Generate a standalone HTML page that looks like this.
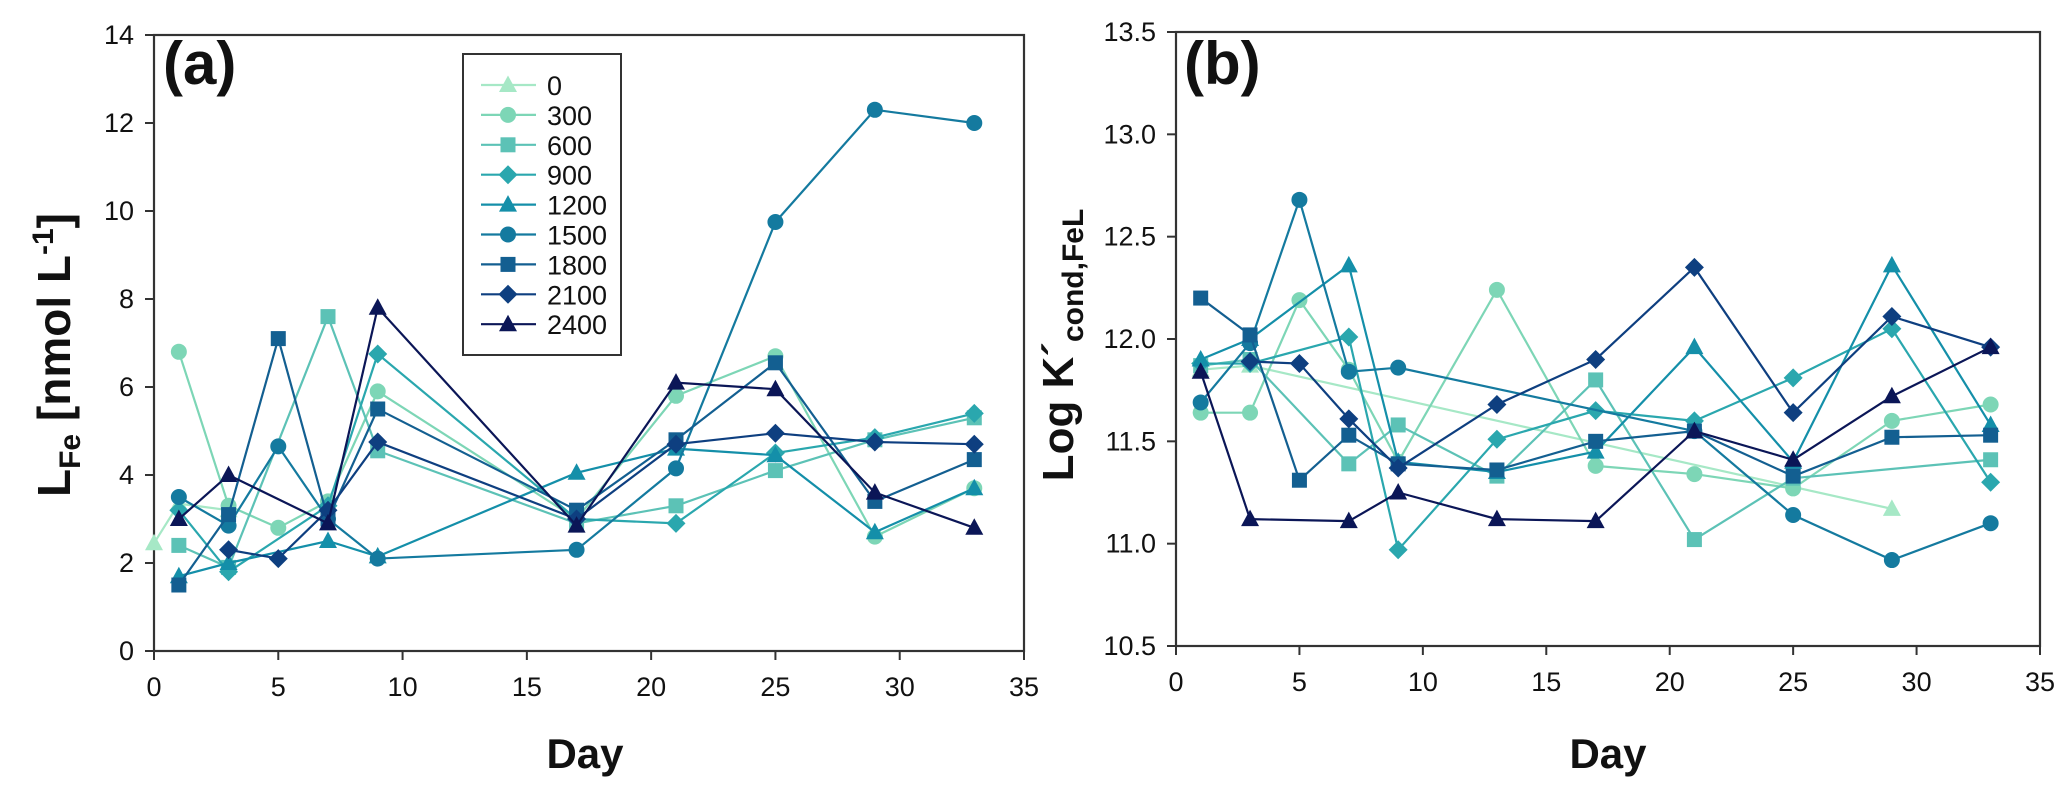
<!DOCTYPE html>
<html><head><meta charset="utf-8"><style>
html,body{margin:0;padding:0;background:#fff;}
svg{display:block;font-family:"Liberation Sans",Arial,sans-serif;}
</style></head><body>
<svg id="fig" width="2067" height="787" viewBox="0 0 2067 787" xmlns="http://www.w3.org/2000/svg"></svg>
<script>
// ---- shared data ----
const seriesNames = ["0","300","600","900","1200","1500","1800","2100","2400"];
const seriesColors = ["#a6e8c6","#7dd6b6","#5cc2b6","#2aa7ae","#148fa9","#147a9f","#135f91","#0e3f80","#0b1657"];
const seriesShapes = ["tri","circle","square","diamond","tri","circle","square","diamond","tri"];

// ---- panel (a) L_Fe ----
const aDays0 = [0,1,3];            const aVals0 = [2.45,3.35,3.2];
const aDays1 = [1,3,5,7,9,17,21,25,29,33]; const aVals1 = [6.8,3.3,2.8,3.4,5.9,3.0,5.8,6.7,2.6,3.7];
const aDays2 = [1,3,7,9,17,21,25,29,33];   const aVals2 = [2.4,1.9,7.6,4.55,2.9,3.3,4.1,4.8,5.3];
const aDays3 = [1,3,7,9,17,21,25,29,33];   const aVals3 = [3.2,1.8,3.3,6.75,3.0,2.9,4.5,4.85,5.4];
const aDays4 = [1,3,7,9,17,21,25,29,33];   const aVals4 = [1.7,2.0,2.5,2.15,4.05,4.6,4.45,2.7,3.7];
const aDays5 = [1,3,5,7,9,17,21,25,29,33]; const aVals5 = [3.5,2.85,4.65,3.0,2.1,2.3,4.15,9.75,12.3,12.0];
const aDays6 = [1,3,5,7,9,17,21,25,29,33]; const aVals6 = [1.5,3.1,7.1,3.0,5.5,3.2,4.8,6.55,3.4,4.35];
const aDays7 = [3,5,7,9,17,21,25,29,33];   const aVals7 = [2.3,2.1,3.2,4.75,3.0,4.7,4.95,4.75,4.7];
const aDays8 = [1,3,7,9,17,21,25,29,33];   const aVals8 = [3.0,4.0,2.9,7.8,2.85,6.1,5.95,3.6,2.8];
const aXTicks = [0,5,10,15,20,25,30,35];
const aYTicks = [0,2,4,6,8,10,12,14];
const aYLabels = ["0","2","4","6","8","10","12","14"];

// ---- panel (b) log K ----
const bDays0 = [1,3,29];                        const bVals0 = [11.85,11.87,11.17];
const bDays1 = [1,3,5,7,9,13,17,21,25,29,33];   const bVals1 = [11.64,11.64,12.19,11.85,11.4,12.24,11.38,11.34,11.27,11.6,11.68];
const bDays2 = [1,3,7,9,13,17,21,25,33];        const bVals2 = [11.87,11.9,11.39,11.58,11.33,11.8,11.02,11.32,11.41];
const bDays3 = [1,3,7,9,13,17,21,25,29,33];     const bVals3 = [11.88,11.88,12.01,10.97,11.51,11.65,11.6,11.81,12.05,11.3];
const bDays4 = [1,3,7,9,13,17,21,25,29,33];     const bVals4 = [11.9,12.0,12.36,11.4,11.35,11.45,11.96,11.4,12.36,11.58];
const bDays5 = [1,3,5,7,9,21,25,29,33];         const bVals5 = [11.69,11.98,12.68,11.84,11.86,11.55,11.14,10.92,11.1];
const bDays6 = [1,3,5,7,9,13,17,21,25,29,33];   const bVals6 = [12.2,12.02,11.31,11.53,11.39,11.36,11.5,11.55,11.33,11.52,11.53];
const bDays7 = [3,5,7,9,13,17,21,25,29,33];     const bVals7 = [11.89,11.88,11.61,11.37,11.68,11.9,12.35,11.64,12.11,11.96];
const bDays8 = [1,3,7,9,13,17,21,25,29,33];     const bVals8 = [11.84,11.12,11.11,11.25,11.12,11.11,11.55,11.41,11.72,11.96];
const bXTicks = [0,5,10,15,20,25,30,35];
const bYTicks = [10.5,11.0,11.5,12.0,12.5,13.0,13.5];
const bYLabels = ["10.5","11.0","11.5","12.0","12.5","13.0","13.5"];

const aDays = [aDays0,aDays1,aDays2,aDays3,aDays4,aDays5,aDays6,aDays7,aDays8];
const aVals = [aVals0,aVals1,aVals2,aVals3,aVals4,aVals5,aVals6,aVals7,aVals8];
const bDays = [bDays0,bDays1,bDays2,bDays3,bDays4,bDays5,bDays6,bDays7,bDays8];
const bVals = [bVals0,bVals1,bVals2,bVals3,bVals4,bVals5,bVals6,bVals7,bVals8];

const NS = "http://www.w3.org/2000/svg";
const svg = document.getElementById("fig");
function mk(tag, attrs, parent){
  const e = document.createElementNS(NS, tag);
  for (const k in attrs) e.setAttribute(k, attrs[k]);
  (parent||svg).appendChild(e);
  return e;
}
function marker(shape, cx, cy, color, parent, s){
  s = s || 8;
  let e;
  if (shape==="circle") e = mk("circle",{cx:cx,cy:cy,r:s,fill:color},parent);
  else if (shape==="square") e = mk("rect",{x:cx-s+0.5,y:cy-s+0.5,width:2*s-1,height:2*s-1,fill:color},parent);
  else if (shape==="diamond") e = mk("polygon",{points:`${cx},${cy-s-1.5} ${cx+s+1.5},${cy} ${cx},${cy+s+1.5} ${cx-s-1.5},${cy}`,fill:color},parent);
  else e = mk("polygon",{points:`${cx},${cy-s-1.5} ${cx+s+1},${cy+s-1} ${cx-s-1},${cy+s-1}`,fill:color},parent);
  return e;
}

function panel(cfg){
  const g = mk("g",{});
  
  
  const X = d => cfg.x0 + (d - cfg.xmin)/(cfg.xmax-cfg.xmin)*(cfg.x1-cfg.x0);
  const Y = v => cfg.y0 - (v - cfg.ymin)/(cfg.ymax-cfg.ymin)*(cfg.y0-cfg.y1);
  const fr = mk("rect",{x:cfg.x0,y:cfg.y1,width:cfg.x1-cfg.x0,height:cfg.y0-cfg.y1,fill:"none",stroke:"#333",'stroke-width':2.2},g);
  
  
  cfg.yTicks.forEach((t,i)=>{
    const y = Y(t);
    mk("line",{x1:cfg.x0-9,x2:cfg.x0,y1:y,y2:y,stroke:"#333",'stroke-width':2},g);
    const tx = mk("text",{x:cfg.x0-20,y:y+9,'text-anchor':"end",'font-size':27,fill:"#111"},g);
    tx.textContent = cfg.yLabels[i];
    
    
  });
  cfg.xTicks.forEach(t=>{
    const x = X(t);
    mk("line",{x1:x,x2:x,y1:cfg.y0,y2:cfg.y0+9,stroke:"#333",'stroke-width':2},g);
    const tx = mk("text",{x:x,y:cfg.y0+45,'text-anchor':"middle",'font-size':27,fill:"#111"},g);
    tx.textContent = String(t);
    
    
  });
  for (let s=0; s<cfg.days.length; s++){
    const sg = mk("g",{},g);
    
    
    const pts = cfg.days[s].map((d,i)=>X(d)+","+Y(cfg.vals[s][i])).join(" ");
    const pl = mk("polyline",{points:pts,fill:"none",stroke:seriesColors[s],'stroke-width':2.2},sg);
    
    
    cfg.days[s].forEach((d,i)=>{
      const m = marker(seriesShapes[s], X(d), Y(cfg.vals[s][i]), seriesColors[s], sg);
      
      
    });
  }
  return g;
}

panel({name:"panel-a",x0:154,x1:1024,y0:651,y1:35,xmin:0,xmax:35,ymin:0,ymax:14,
  xTicks:aXTicks,yTicks:aYTicks,yLabels:aYLabels,days:aDays,vals:aVals});
panel({name:"panel-b",x0:1176,x1:2040,y0:646,y1:32,xmin:0,xmax:35,ymin:10.5,ymax:13.5,
  xTicks:bXTicks,yTicks:bYTicks,yLabels:bYLabels,days:bDays,vals:bVals});

const lg = mk("g",{});


mk("rect",{x:463,y:54,width:158,height:301,fill:"#fff",stroke:"#333",'stroke-width':2},lg);
seriesNames.forEach((n,i)=>{
  const y = 85 + i*29.9;
  const eg = mk("g",{},lg);
  
  
  mk("line",{x1:481,x2:536,y1:y,y2:y,stroke:seriesColors[i],'stroke-width':2.2},eg);
  marker(seriesShapes[i],508,y,seriesColors[i],eg);
  const t = mk("text",{x:547,y:y+10,'font-size':27,fill:"#111"},eg);
  t.textContent = n;
});
</script>
<svg width="2067" height="787" style="position:absolute;left:0;top:0;pointer-events:none" xmlns="http://www.w3.org/2000/svg">
  <text x="163" y="84" font-family="Liberation Sans, sans-serif" font-weight="bold" font-size="60" fill="#111">(a)</text>
  <text x="1184" y="84" font-family="Liberation Sans, sans-serif" font-weight="bold" font-size="60" fill="#111">(b)</text>
  <text x="585" y="768" text-anchor="middle" font-family="Liberation Sans, sans-serif" font-weight="bold" font-size="42" fill="#111">Day</text>
  <text x="1608" y="768" text-anchor="middle" font-family="Liberation Sans, sans-serif" font-weight="bold" font-size="42" fill="#111">Day</text>
  <text transform="translate(70,355) rotate(-90)" text-anchor="middle" font-family="Liberation Sans, sans-serif" font-weight="bold" font-size="46" fill="#111">L<tspan font-size="30" dy="10">Fe</tspan><tspan dy="-10"> [nmol L</tspan><tspan font-size="30" dy="-17">-1</tspan><tspan dy="17">]</tspan></text>
  <text transform="translate(1073,345) rotate(-90)" text-anchor="middle" font-family="Liberation Sans, sans-serif" font-weight="bold" font-size="44" fill="#111">Log K´<tspan font-size="30" dy="10">cond,FeL</tspan></text>
</svg>
</body></html>
